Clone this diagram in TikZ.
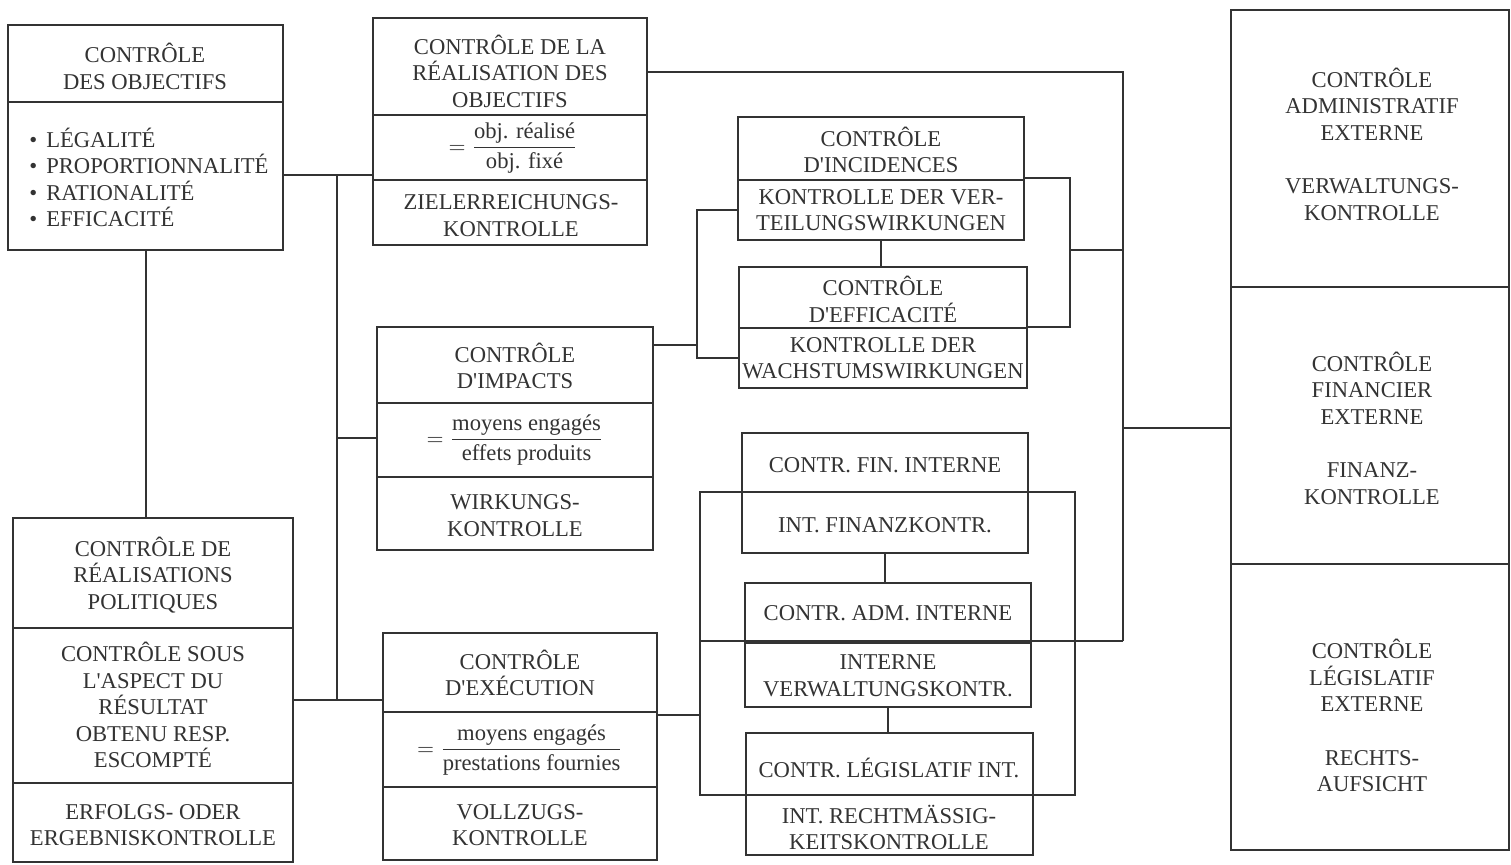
\documentclass[tikz,border=0pt]{standalone}
\usepackage{amsmath}
\usepackage{fontspec}
\setmainfont{Liberation Serif}[Ligatures=TeXOff]
\usetikzlibrary{fit}
\definecolor{ink}{HTML}{333333}
\newcommand\itm{\textbullet\hspace{4.5pt}}
\begin{document}
\begin{tikzpicture}[x=0.5pt,y=-0.5pt,
  box/.style={draw=ink,line width=1pt,fill=white,inner sep=0pt},
  wire/.style={draw=ink,line width=1pt},
  txt/.style={font=\fontsize{11.3}{13.3}\selectfont,align=center,text=ink,inner sep=0pt},
  lst/.style={font=\fontsize{11.3}{13.3}\selectfont,align=left,text=ink,inner sep=0pt,anchor=west}]
\useasboundingbox (0,0) rectangle (1511,864);

% ---------- boxes ----------
\node[box,fit={(8,25) (283,250)}]     (obj)  {};
\node[box,fit={(373,18) (647,245)}]   (real) {};
\node[box,fit={(738,117) (1024,240)}] (inc)  {};
\node[box,fit={(739,267) (1027,388)}] (eff)  {};
\node[box,fit={(377,327) (653,550)}]  (imp)  {};
\node[box,fit={(742,433) (1028,553)}] (fin)  {};
\node[box,fit={(745,583) (1031,707)}] (adm)  {};
\node[box,fit={(746,733) (1033,855)}] (leg)  {};
\node[box,fit={(383,633) (657,860)}]  (exe)  {};
\node[box,fit={(13,518) (293,862)}]   (pol)  {};
\node[box,fit={(1231,10) (1509,850)}] (ext)  {};

% ---------- dividers inside the boxes ----------
\foreach \n/\y in {obj/102, real/115, real/180, inc/180, eff/328, imp/403, imp/477,
                   adm/643, exe/712, exe/787, pol/628, pol/783, ext/287, ext/564} {
  \coordinate (cut) at (0,\y);
  \draw[wire] (\n.west |- cut) -- (\n.east |- cut);
}

% ---------- texts ----------
\node[txt] at (145,66.5) {CONTRÔLE\\DES OBJECTIFS};
\node[lst] at (29,177.5) {\itm LÉGALITÉ\\\itm PROPORTIONNALITÉ\\\itm RATIONALITÉ\\\itm EFFICACITÉ};

\node[txt] at (510,71) {CONTRÔLE DE LA\\RÉALISATION DES\\OBJECTIFS};
\node[txt] at (513,148) {$=\dfrac{\text{obj. réalisé}}{\text{obj. fixé}}$};
\node[txt] at (511,215.5) {ZIELERREICHUNGS-\\KONTROLLE};

\node[txt] at (881,150) {CONTRÔLE\\D'INCIDENCES};
\node[txt] at (881,210) {KONTROLLE DER VER-\\TEILUNGSWIRKUNGEN};

\node[txt] at (883,299.5) {CONTRÔLE\\D'EFFICACITÉ};
\node[txt] at (883,358) {KONTROLLE DER\\WACHSTUMSWIRKUNGEN};

\node[txt] at (515,366) {CONTRÔLE\\D'IMPACTS};
\node[txt] at (515,440) {$=\dfrac{\text{moyens engagés}}{\text{effets produits}}$};
\node[txt] at (515,515.5) {WIRKUNGS-\\KONTROLLE};

\node[txt] at (885,465) {CONTR. FIN. INTERNE};
\node[txt] at (885,525) {INT. FINANZKONTR.};

\node[txt] at (888,613) {CONTR. ADM. INTERNE};
\node[txt] at (888,676) {INTERNE\\VERWALTUNGSKONTR.};

\node[txt] at (889,768) {CONTR. LÉGISLATIF INT.};
\node[txt] at (889,827.5) {INT. RECHTMÄSSIG-\\KEITSKONTROLLE};

\node[txt] at (520,673) {CONTRÔLE\\D'EXÉCUTION};
\node[txt] at (520,750) {$=\dfrac{\text{moyens engagés}}{\text{prestations fournies}}$};
\node[txt] at (520,825) {VOLLZUGS-\\KONTROLLE};

\node[txt] at (153,575) {CONTRÔLE DE\\RÉALISATIONS\\POLITIQUES};
\node[txt] at (153,705) {CONTRÔLE SOUS\\L'ASPECT DU\\RÉSULTAT\\OBTENU RESP.\\ESCOMPTÉ};
\node[txt] at (153,825) {ERFOLGS- ODER\\ERGEBNISKONTROLLE};

\node[txt] at (1372,144) {CONTRÔLE\\ADMINISTRATIF\\EXTERNE\\[13.3pt]VERWALTUNGS-\\KONTROLLE};
\node[txt] at (1372,428) {CONTRÔLE\\FINANCIER\\EXTERNE\\[13.3pt]FINANZ-\\KONTROLLE};
\node[txt] at (1372,715.5) {CONTRÔLE\\LÉGISLATIF\\EXTERNE\\[13.3pt]RECHTS-\\AUFSICHT};

% ---------- connectors ----------
% left column
\draw[wire] (obj.south) -- (obj.south |- pol.north);
\coordinate (lt) at (337,175);
\coordinate (lb) at (337,700);
\coordinate (yImp) at (0,438);
\draw[wire] (obj.east |- lt) -- (real.west |- lt);
\draw[wire] (lt) -- (lb);
\draw[wire] (lt |- yImp) -- (imp.west |- yImp);
\draw[wire] (pol.east |- lb) -- (exe.west |- lb);

% impacts towards incidences / efficacité
\coordinate (ct) at (697,210);
\coordinate (cb) at (697,358);
\coordinate (yImpR) at (0,345);
\draw[wire] (inc.west |- ct) -- (ct) -- (cb) -- (eff.west |- cb);
\draw[wire] (imp.east |- yImpR) -- (ct |- yImpR);
\draw[wire] (inc.south) -- (inc.south |- eff.north);

% loop on the right of incidences / efficacité
\coordinate (rt) at (1070,178);
\coordinate (rb) at (1070,327);
\draw[wire] (inc.east |- rt) -- (rt) -- (rb) -- (eff.east |- rb);

% main bus to the external controls
\coordinate (bt) at (1123,72);
\coordinate (bb) at (1123,641);
\coordinate (yExt) at (0,428);
\coordinate (yLoop) at (0,250);
\draw[wire] (real.east |- bt) -- (bt) -- (bb);
\draw[wire] (rt |- yLoop) -- (bt |- yLoop);
\draw[wire] (bt |- yExt) -- (ext.west |- yExt);

% loop around the internal controls
\coordinate (la) at (700,492);
\coordinate (lc) at (1075,795);
\draw[wire] (la) rectangle (lc);
\draw[wire] (bb) -- (la |- bb);
\coordinate (yExe) at (0,715);
\draw[wire] (exe.east |- yExe) -- (la |- yExe);
\draw[wire] (fin.south) -- (fin.south |- adm.north);
\draw[wire] (adm.south) -- (adm.south |- leg.north);
\end{tikzpicture}
\end{document}
